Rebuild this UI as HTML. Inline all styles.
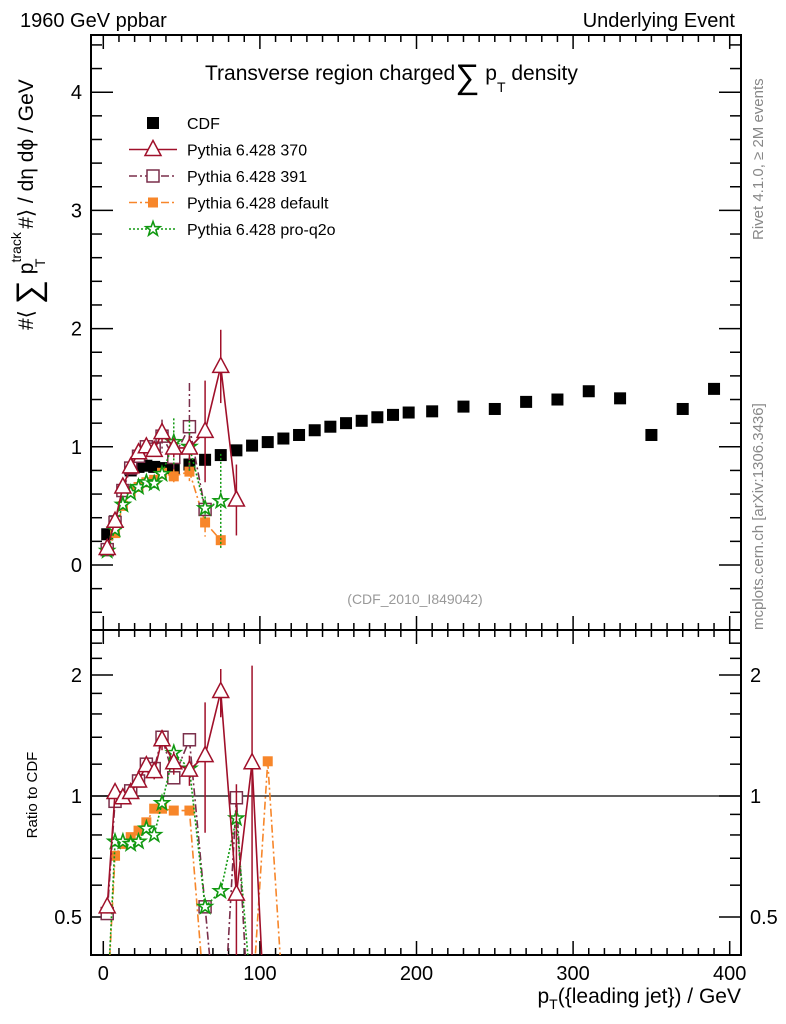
<!DOCTYPE html>
<html><head><meta charset="utf-8"><style>
html,body{margin:0;background:#fff;width:786px;height:1024px;overflow:hidden}
svg{font-family:"Liberation Sans",sans-serif;display:block}
</style></head><body>
<svg id="c" width="786" height="1024" viewBox="0 0 786 1024" xmlns="http://www.w3.org/2000/svg">
<defs>
<clipPath id="cm"><rect x="91" y="35" width="650" height="595"/></clipPath>
<clipPath id="cr"><rect x="91" y="630" width="650" height="325"/></clipPath>
</defs>
<text x="20" y="27" font-size="20">1960 GeV ppbar</text>
<text x="735" y="27" font-size="20" text-anchor="end">Underlying Event</text>
<text x="205" y="80" font-size="21">Transverse region charged<tspan font-size="34" dy="8">∑</tspan><tspan dy="-8"> p</tspan><tspan font-size="14" dy="12">T</tspan><tspan dy="-12"> density</tspan></text>
<text transform="translate(763,240) rotate(-90)" font-size="15" fill="#888">Rivet 4.1.0, ≥ 2M events</text>
<text transform="translate(763,630) rotate(-90)" font-size="15" fill="#888">mcplots.cern.ch [arXiv:1306.3436]</text>
<text x="415" y="604" font-size="14" fill="#999" text-anchor="middle">(CDF_2010_I849042)</text>
<text transform="translate(33,330) rotate(-90)" font-size="21" text-anchor="start">#⟨ <tspan font-size="34" dy="7">∑</tspan><tspan dy="-7"> p</tspan><tspan font-size="14" dy="-12">track</tspan><tspan font-size="14" dx="-35" dy="24">T</tspan><tspan dy="-12" dx="24"> #⟩ / dη dϕ / GeV</tspan></text>
<text transform="translate(37,795) rotate(-90)" font-size="15" text-anchor="middle">Ratio to CDF</text>
<text x="741" y="1003" font-size="21" text-anchor="end">p<tspan font-size="14" dy="6">T</tspan><tspan dy="-6">({leading jet}) / GeV</tspan></text>
<g id="axes"></g>
<g id="marks"></g>
<g id="legend"></g>
</svg>
<script>
const cdfX=[2.5,7.5,12.5,17.5,22.5,27.5,32.5,37.5,45,55,65,75,85,95,105,115,125,135,145,155,165,175,185,195,210,230,250,270,290,310,330,350,370,390];
const cdfY=[0.26,0.37,0.63,0.80,0.83,0.84,0.83,0.82,0.82,0.85,0.89,0.93,0.97,1.01,1.04,1.07,1.10,1.14,1.17,1.20,1.22,1.25,1.27,1.29,1.30,1.34,1.32,1.38,1.40,1.47,1.41,1.10,1.32,1.49];
const mcX=[2.5,7.5,12.5,17.5,22.5,27.5,32.5,37.5,45,55,65,75,85];
const p370Y=[0.14,0.37,0.66,0.83,0.95,1.00,0.97,1.12,0.99,0.99,1.13,1.68,0.55];
const p370Err=[0.02,0.03,0.03,0.03,0.04,0.04,0.05,0.08,0.08,0.1,0.43,0.31,0.3];
const p391Y=[0.13,0.36,0.63,0.82,0.92,1.00,0.98,1.09,0.91,1.17,0.47,null,null];
const p391Err=[0.02,0.03,0.03,0.03,0.04,0.05,0.05,0.14,0.1,0.37,0.05,0,0];
const defY=[0.12,0.27,0.50,0.62,0.66,0.70,0.72,0.78,0.75,0.79,0.36,0.21,null];
const defErr=[0.02,0.02,0.03,0.03,0.03,0.04,0.04,0.05,0.06,0.08,0.12,0.05,0];
const q2oY=[0.12,0.30,0.51,0.61,0.66,0.70,0.69,0.77,1.04,1.00,0.48,0.54,null];
const q2oErr=[0.02,0.02,0.03,0.03,0.03,0.04,0.04,0.05,0.2,0.22,0.1,0.4,0];
const rX=[2.5,7.5,12.5,17.5,22.5,27.5,32.5,37.5,45,55,65,75,85,95,105,115];
const r370=[0.53,1.02,0.99,1.02,1.09,1.19,1.15,1.38,1.21,1.16,1.26,1.82,0.57,1.21,0.2,null];
const r391=[0.51,0.97,0.99,1.03,1.09,1.20,1.17,1.40,1.11,1.38,0.53,0.2,0.99,0.2,null,null];
const rDef=[0.3,0.71,0.76,0.79,0.82,0.86,0.93,0.93,0.92,0.92,0.3,0.3,0.3,0.3,1.22,0.3];
const rQ2o=[0.3,0.77,0.77,0.76,0.77,0.83,0.80,0.96,1.28,1.17,0.53,0.58,0.88,0.3,null,null];
const r370Err=[0.02,0.03,0.03,0.03,0.04,0.04,0.05,0.08,0.08,0.1,0.45,0.25,0.5,0.9,0,0];
const xTicks=[0,100,200,300,400];
const yTicks=[0,1,2,3,4];
const rTicks=[0.5,1,2];

const NS="http://www.w3.org/2000/svg";
const L=91,R=741,T=35,MB=630,RB=955;
const xs=v=>103.3+v*1.566;
const ys=v=>565-v*118.2;
const rs=v=>796-Math.log2(v)*121;
function el(tag,attrs,parent){const e=document.createElementNS(NS,tag);for(const k in attrs)e.setAttribute(k,attrs[k]);parent.appendChild(e);return e;}
const ax=document.getElementById('axes'),mk=document.getElementById('marks'),lg=document.getElementById('legend');
let f=el('rect',{x:L,y:T,width:R-L,height:MB-T,fill:'none',stroke:'#000','stroke-width':2},ax);


f=el('rect',{x:L,y:MB,width:R-L,height:RB-MB,fill:'none',stroke:'#000','stroke-width':2},ax);


for(let v=-10;v<=400;v+=10){const x=xs(v);if(x<L||x>R)continue;const big=v%100===0;const len=big?14:7;
 [[T,T+len],[MB,MB-len],[MB,MB+len],[RB,RB-len]].forEach(p=>el('line',{x1:x,x2:x,y1:p[0],y2:p[1],stroke:'#000','stroke-width':1.5},ax));}
xTicks.forEach(v=>{const t=el('text',{x:xs(v),y:980,'font-size':20,'text-anchor':'middle'},ax);t.textContent=v;
 
 });
for(let i=-2;i<=22;i++){const v=i*0.2;const y=ys(v);if(y<T||y>MB)continue;const big=i%5===0;const len=big?22:11;
 el('line',{x1:L,x2:L+len,y1:y,y2:y,stroke:'#000','stroke-width':1.5},ax);el('line',{x1:R,x2:R-len,y1:y,y2:y,stroke:'#000','stroke-width':1.5},ax);}
yTicks.forEach(v=>{const t=el('text',{x:82,y:ys(v)+7,'font-size':20,'text-anchor':'end'},ax);t.textContent=v;
 
 });
[0.5,0.6,0.7,0.8,0.9,1,1.2,1.4,1.6,1.8,2,2.2,2.4].forEach(v=>{const y=rs(v);const big=rTicks.includes(v);const len=big?22:11;
 el('line',{x1:L,x2:L+len,y1:y,y2:y,stroke:'#000','stroke-width':1.5},ax);el('line',{x1:R,x2:R-len,y1:y,y2:y,stroke:'#000','stroke-width':1.5},ax);});
rTicks.forEach(v=>{let t=el('text',{x:82,y:rs(v)+7,'font-size':20,'text-anchor':'end'},ax);t.textContent=v;
 
 
 t=el('text',{x:750,y:rs(v)+7,'font-size':20},ax);t.textContent=v;
 
 });
el('line',{x1:L,x2:R,y1:rs(1),y2:rs(1),stroke:'#000','stroke-width':1.3},ax);

function marker(g,type,x,y,color){
 if(type==='tri')return el('path',{d:`M${x} ${y-9}L${x+8} ${y+6}L${x-8} ${y+6}Z`,fill:'#fff',stroke:color,'stroke-width':1.5},g);
 if(type==='osq')return el('rect',{x:x-6,y:y-6,width:12,height:12,fill:'#fff',stroke:color,'stroke-width':1.5},g);
 if(type==='fsq')return el('rect',{x:x-5,y:y-5,width:10,height:10,fill:color},g);
 if(type==='blk')return el('rect',{x:x-6,y:y-6,width:12,height:12,fill:'#000'},g);
 if(type==='star'){let p='';for(let i=0;i<10;i++){const r=i%2?3:7.5,a=-Math.PI/2+i*Math.PI/5;p+=(i?'L':'M')+(x+r*Math.cos(a)).toFixed(1)+' '+(y+r*Math.sin(a)).toFixed(1);}
  return el('path',{d:p+'Z',fill:'#fff',stroke:color,'stroke-width':1.6},g);}
}
function series(name,xArr,yArr,eArr,sc,clip,color,dash,type){
 const g=el('g',{'clip-path':`url(#${clip})`},mk);
 
 
 let pts=[];xArr.forEach((x,i)=>{if(yArr[i]!=null)pts.push([xs(x),sc(yArr[i])]);});
 if(color!=='#000')el('polyline',{points:pts.map(p=>p.join(',')).join(' '),fill:'none',stroke:color,'stroke-width':1.6,'stroke-dasharray':dash},g);
 xArr.forEach((x,i)=>{const v=yArr[i];if(v==null)return;
  if(eArr&&eArr[i]){const e=eArr[i];el('line',{x1:xs(x),x2:xs(x),y1:sc(v+e),y2:sc(Math.max(v-e,0.01)),stroke:color,'stroke-width':1.5,'stroke-dasharray':dash},g);}
  marker(g,type,xs(x),sc(v),color);});
}
series('cdf-data',cdfX,cdfY,null,ys,'cm','#000','','blk');
series('pythia-default',mcX,defY,defErr,ys,'cm','#f7862a','8,3,2,3','fsq');
series('pythia-391',mcX,p391Y,p391Err,ys,'cm','#7a2e4a','8,3,2,3','osq');
series('pythia-pro-q2o',mcX,q2oY,q2oErr,ys,'cm','#119911','2,2','star');
series('pythia-370',mcX,p370Y,p370Err,ys,'cm','#a0102a','','tri');
series('ratio-default',rX,rDef,null,rs,'cr','#f7862a','8,3,2,3','fsq');
series('ratio-391',rX,r391,null,rs,'cr','#7a2e4a','8,3,2,3','osq');
series('ratio-pro-q2o',rX,rQ2o,null,rs,'cr','#119911','2,2','star');
series('ratio-370',rX,r370,r370Err,rs,'cr','#a0102a','','tri');

const legItems=[['CDF','#000','','blk'],['Pythia 6.428 370','#a0102a','','tri'],['Pythia 6.428 391','#7a2e4a','8,3,2,3','osq'],['Pythia 6.428 default','#f7862a','8,3,2,3','fsq'],['Pythia 6.428 pro-q2o','#119911','2,2','star']];
legItems.forEach((it,i)=>{const y=123+i*26.5;const g=el('g',{},lg);
 
 
 if(i>0)el('line',{x1:129,x2:177,y1:y,y2:y,stroke:it[1],'stroke-width':1.6,'stroke-dasharray':it[2]},g);
 marker(g,it[3],153,y,it[1]);
 const t=el('text',{x:187,y:y+6,'font-size':16},g);t.textContent=it[0];});
</script>
</body></html>
